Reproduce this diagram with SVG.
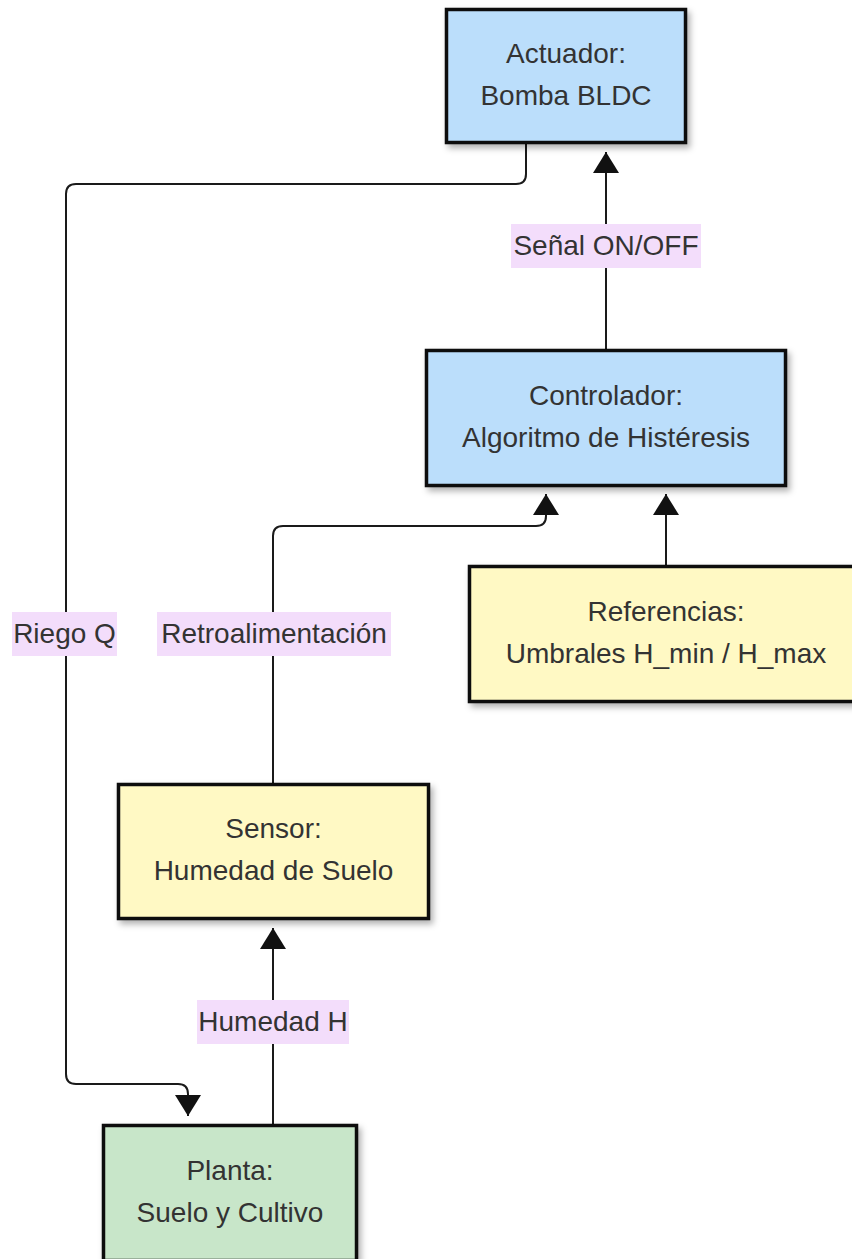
<svg xmlns="http://www.w3.org/2000/svg" width="852" height="1259" viewBox="0 0 852 1259">
<defs>
<filter id="sh" x="-10%" y="-10%" width="130%" height="130%">
<feDropShadow dx="3" dy="4" stdDeviation="3" flood-color="#000" flood-opacity="0.3"/>
</filter>
<marker id="ah" markerUnits="userSpaceOnUse" markerWidth="22" markerHeight="26" viewBox="0 0 22 26" refX="21" refY="13" orient="auto">
<path d="M0,0 L21,13 L0,26 z" fill="#111"/>
</marker>
<style>
.box{stroke:#111;stroke-width:3.5;filter:url(#sh)}
.blue{fill:#bbdefb}
.yellow{fill:#fff9c4}
.green{fill:#c8e6c9}
.t{font-family:"Liberation Sans",Arial,Helvetica,sans-serif;font-size:28px;fill:#333;text-anchor:middle}
.e{fill:none;stroke:#1a1a1a;stroke-width:2}
.lb{fill:#f3ddfb}
</style>
</defs>
<rect width="852" height="1259" fill="#fff"/>
<g id="connectors">
<path class="e" d="M526,144 L526,174 Q526,184 516,184 L76,184 Q66,184 66,194 L66,1074 Q66,1084 76,1084 L178,1084 Q188,1084 188,1094 L188,1116" marker-end="url(#ah)"/>
<path class="e" d="M606,350 L606,152" marker-end="url(#ah)"/>
<path class="e" d="M273,783 L273,536 Q273,526 283,526 L536,526 Q546,526 546,516 L546,494" marker-end="url(#ah)"/>
<path class="e" d="M666,565 L666,494" marker-end="url(#ah)"/>
<path class="e" d="M273,1124 L273,928" marker-end="url(#ah)"/>
<g id="lbl-riego"><rect class="lb" x="12" y="612" width="105" height="44"/><text class="t" x="64.5" y="643">Riego Q</text></g>
<g id="lbl-senal"><rect class="lb" x="511" y="224" width="190" height="44"/><text class="t" x="606" y="255">Señal ON/OFF</text></g>
<g id="lbl-retro"><rect class="lb" x="157" y="612" width="234" height="44"/><text class="t" x="274" y="643">Retroalimentación</text></g>
<g id="lbl-humedad"><rect class="lb" x="197" y="1000" width="152" height="44"/><text class="t" x="273" y="1031">Humedad H</text></g>
</g>
<g id="actuador">
<rect class="box blue" x="446.5" y="9.5" width="239" height="133"/>
<text class="t" x="566" y="63">Actuador:</text>
<text class="t" x="566" y="105">Bomba BLDC</text>
</g>
<g id="controlador">
<rect class="box blue" x="426.5" y="350.5" width="359" height="135"/>
<text class="t" x="606" y="405">Controlador:</text>
<text class="t" x="606" y="447">Algoritmo de Histéresis</text>
</g>
<g id="referencias">
<rect class="box yellow" x="469.5" y="566.5" width="393" height="135"/>
<text class="t" x="666" y="621">Referencias:</text>
<text class="t" x="666" y="663">Umbrales H_min / H_max</text>
</g>
<g id="sensor">
<rect class="box yellow" x="118.5" y="784.5" width="310" height="134"/>
<text class="t" x="273.5" y="838">Sensor:</text>
<text class="t" x="273.5" y="880">Humedad de Suelo</text>
</g>
<g id="planta">
<rect class="box green" x="103.5" y="1125.5" width="253" height="135"/>
<text class="t" x="230" y="1180">Planta:</text>
<text class="t" x="230" y="1222">Suelo y Cultivo</text>
</g>
</svg>
